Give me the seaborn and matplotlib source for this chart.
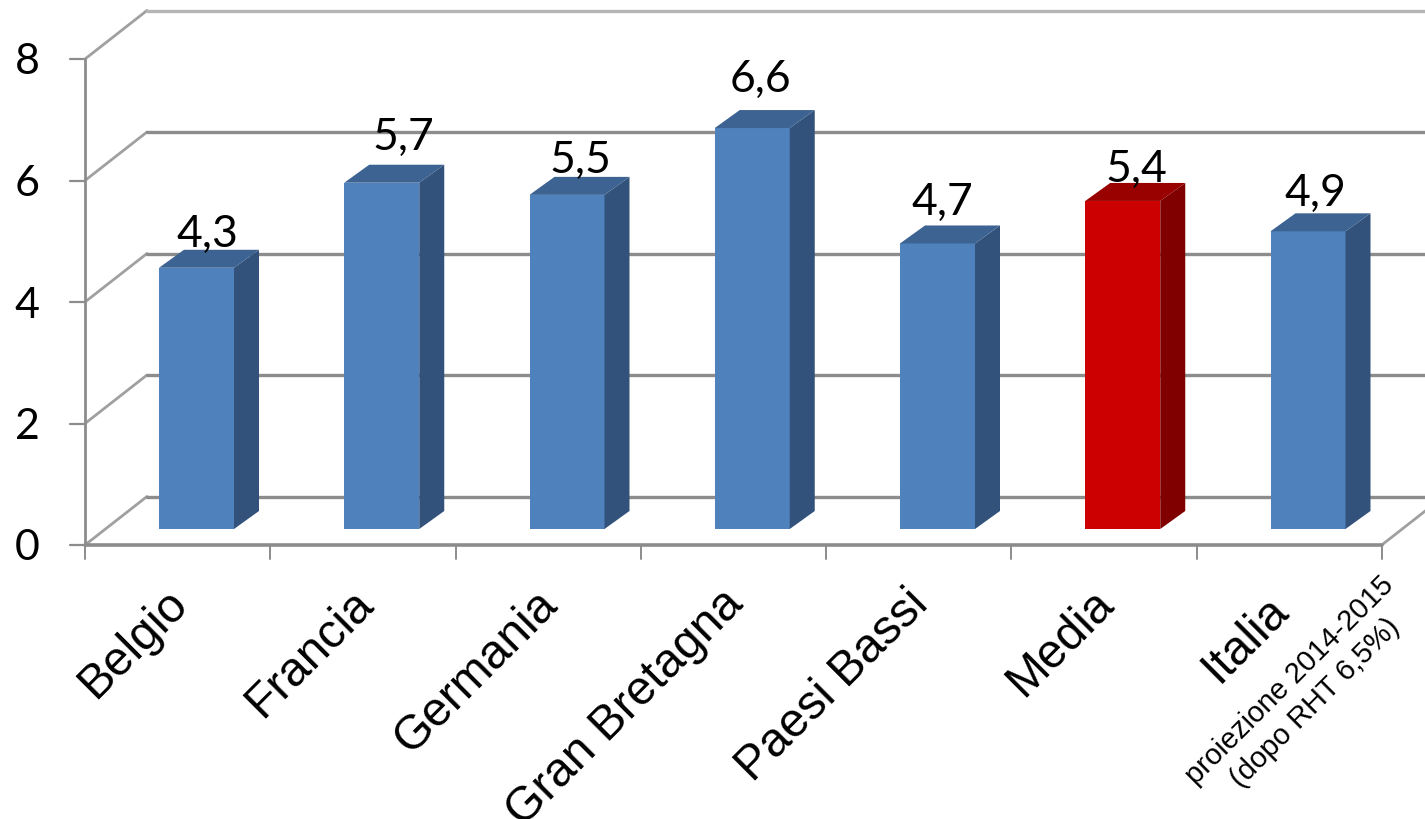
import matplotlib
matplotlib.use("Agg")
import matplotlib.pyplot as plt
from matplotlib.patches import Polygon
import seaborn as sns

# datos
paesi = ["Belgio", "Francia", "Germania", "Gran Bretagna", "Paesi Bassi", "Media", "Italia"]
valori = [4.3, 5.7, 5.5, 6.6, 4.7, 5.4, 4.9]
etichette = ["4,3", "5,7", "5,5", "6,6", "4,7", "5,4", "4,9"]
tick_y = [0, 2, 4, 6, 8]
nota_italia = ["proiezione 2014-2015", "(dopo RHT 6,5%)"]

# escalas en pixeles de la figura
PX_X = 185.25
PX_Y = 60.75
def dx(px):
    return px / PX_X
def dy(px):
    return px / PX_Y

# desplazamiento de las etiquetas sobre cada barra (px)
label_dx = [11, 22, 13, 8, 5, 14, 7]
label_dy = [37, 49, 38, 53, 45, 36, 42]

# colores: frente, lado, arriba
azul = ("#4f81bd", "#32527b", "#3c6391")
rojo = ("#cc0000", "#800000", "#990000")
colores = [rojo if p == "Media" else azul for p in paesi]
gris = "#8c8c8c"

sns.set_theme(style="white")
plt.rcParams["font.family"] = ["Lato", "DejaVu Sans"]

fig = plt.figure(figsize=(14.25, 8.19), dpi=100)
ax = fig.add_axes([0, 0, 1, 1])

ANCHO = 75 / PX_X
sns.barplot(x=paesi, y=valori, hue=paesi, palette=[c[0] for c in colores],
            width=ANCHO, dodge=False, legend=False, saturation=1, linewidth=0, zorder=3, ax=ax)

ax.set_xlim(-dx(196.5), dx(1425 - 196.5))
ax.set_ylim(-dy(819 - 529), dy(529))
ax.axis("off")

# pared del fondo y lateral
piso = -dy(16)
prof_x, prof_y = dx(62), dy(48.5)
izq = -dx(111.5)
der = izq + len(paesi)

for v in tick_y:
    y = v + piso
    ax.plot([izq - dx(15), izq], [y, y], color=gris, lw=1.6, zorder=1)
    ax.plot([izq, izq + prof_x], [y, y + prof_y], color="#a0a0a0", lw=2, zorder=1)
    ax.plot([izq + prof_x, ax.get_xlim()[1]], [y + prof_y, y + prof_y],
            color="#b5b5b5" if v == 8 else gris, lw=2.4, zorder=1)
    ax.text(-dx(169.5), y, str(v), fontsize=31, color="black", ha="center", va="center_baseline")

# eje frontal y piso
ax.plot([izq, izq], [piso, 8 + piso], color=gris, lw=2, zorder=2)
ax.plot([izq, der], [piso, piso], color=gris, lw=2.6, zorder=2)
ax.plot([der, der + prof_x], [piso, piso + prof_y], color="#a0a0a0", lw=2, zorder=1)
for i in range(len(paesi) + 1):
    ax.plot([izq + i, izq + i], [piso, piso - dy(14)], color=gris, lw=1.4, zorder=2)

# caras 3D de cada barra
bx, by = dx(25), dy(18)
for i, (v, c) in enumerate(zip(valori, colores)):
    x1 = i + ANCHO / 2
    x0 = i - ANCHO / 2
    ax.add_patch(Polygon([(x1, 0), (x1 + bx, by), (x1 + bx, v + by), (x1, v)],
                         closed=True, fc=c[1], ec="none", zorder=3))
    ax.add_patch(Polygon([(x0, v), (x0 + bx, v + by), (x1 + bx, v + by), (x1, v)],
                         closed=True, fc=c[2], ec="none", zorder=3))
    ax.text(i + dx(label_dx[i]), v + dy(label_dy[i]), etichette[i], fontsize=32,
            color="black", ha="center", va="center_baseline", zorder=5)

# etiquetas de categoria
for i, p in enumerate(paesi):
    off_x, off_y = (-27, 58) if p == "Italia" else (-16, 52)
    ax.text(i + dx(off_x), piso - dy(off_y), p, fontsize=34.5, family="Liberation Sans", rotation=45,
            rotation_mode="anchor", ha="right", va="center", color="black")

ax.text(6 + dx(81), piso - dy(36), nota_italia[0], fontsize=21, family="Liberation Sans", rotation=45,
        rotation_mode="anchor", ha="right", va="center", color="black")
ax.text(6 + dx(87), piso - dy(78), nota_italia[1], fontsize=21, family="Liberation Sans", rotation=45,
        rotation_mode="anchor", ha="right", va="center", color="black")

fig.savefig("out.png", dpi=100)
